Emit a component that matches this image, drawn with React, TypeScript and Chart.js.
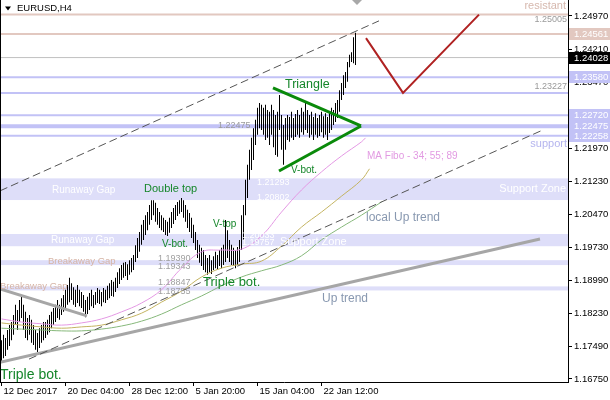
import React, { useEffect, useRef } from "react";
import { Chart, registerables } from "chart.js";

Chart.register(...registerables);

// ---------- data ----------
const chartTitle = "EURUSD,H4";
const xTickBars = [0, 32, 64, 96, 128, 160];
const xTickLabels = ["12 Dec 2017", "20 Dec 04:00", "28 Dec 12:00", "5 Jan 20:00", "15 Jan 04:00", "22 Jan 12:00"];
const yTickValues = [1.2497, 1.2421, 1.2347, 1.2272, 1.2197, 1.2123, 1.2047, 1.1973, 1.1899, 1.1823, 1.1749, 1.1675];

const barHigh = [
  1.1763, 1.1775, 1.1768, 1.1786, 1.1797, 1.1804, 1.1820, 1.1843, 1.1831, 1.1854,
  1.1861, 1.1843, 1.1827, 1.1813, 1.1820, 1.1809, 1.1797, 1.1786, 1.1779, 1.1790,
  1.1797, 1.1804, 1.1804, 1.1809, 1.1820, 1.1827, 1.1836, 1.1843, 1.1854, 1.1843,
  1.1858, 1.1865, 1.1877, 1.1888, 1.1904, 1.1892, 1.1883, 1.1877, 1.1888, 1.1877,
  1.1872, 1.1865, 1.1854, 1.1861, 1.1870, 1.1877, 1.1865, 1.1872, 1.1881, 1.1877,
  1.1872, 1.1881, 1.1877, 1.1886, 1.1892, 1.1899, 1.1895, 1.1904, 1.1917, 1.1926,
  1.1933, 1.1938, 1.1940, 1.1935, 1.1944, 1.1949, 1.1956, 1.1978, 1.1994, 1.2008,
  1.2024, 1.2035, 1.2046, 1.2053, 1.2069, 1.2080, 1.2080, 1.2074, 1.2062, 1.2053,
  1.2046, 1.2040, 1.2035, 1.2031, 1.2040, 1.2053, 1.2062, 1.2069, 1.2076, 1.2080,
  1.2085, 1.2080, 1.2069, 1.2058, 1.2051, 1.2040, 1.2024, 1.2008, 1.1990, 1.1979,
  1.1972, 1.1967, 1.1956, 1.1949, 1.1956, 1.1944, 1.1953, 1.1963, 1.1956, 1.1967,
  1.1972, 1.1979, 1.2035, 1.2012, 1.1990, 1.1979, 1.1972, 1.1967, 1.1974, 1.1990,
  1.2046, 1.2069, 1.2126, 1.2160, 1.2194, 1.2221, 1.2243, 1.2262, 1.2289, 1.2300,
  1.2296, 1.2289, 1.2296, 1.2284, 1.2280, 1.2296, 1.2284, 1.2273, 1.2280, 1.2318,
  1.2273, 1.2250, 1.2266, 1.2273, 1.2268, 1.2280, 1.2266, 1.2275, 1.2284, 1.2273,
  1.2289, 1.2280, 1.2300, 1.2284, 1.2273, 1.2280, 1.2268, 1.2277, 1.2266, 1.2273,
  1.2280, 1.2270, 1.2277, 1.2268, 1.2280, 1.2289, 1.2284, 1.2300, 1.2307, 1.2329,
  1.2345, 1.2363, 1.2370, 1.2393, 1.2409, 1.2415, 1.2449, 1.2459,
];
const barLow = [
  1.1713, 1.1722, 1.1727, 1.1741, 1.1750, 1.1763, 1.1775, 1.1797, 1.1786, 1.1804,
  1.1813, 1.1786, 1.1768, 1.1763, 1.1775, 1.1757, 1.1752, 1.1741, 1.1736, 1.1745,
  1.1757, 1.1763, 1.1768, 1.1775, 1.1781, 1.1790, 1.1797, 1.1804, 1.1813, 1.1809,
  1.1820, 1.1827, 1.1831, 1.1843, 1.1849, 1.1854, 1.1843, 1.1838, 1.1847, 1.1840,
  1.1836, 1.1827, 1.1815, 1.1822, 1.1831, 1.1840, 1.1836, 1.1843, 1.1847, 1.1845,
  1.1840, 1.1849, 1.1847, 1.1854, 1.1858, 1.1863, 1.1861, 1.1872, 1.1881, 1.1890,
  1.1899, 1.1904, 1.1908, 1.1899, 1.1911, 1.1917, 1.1922, 1.1940, 1.1949, 1.1963,
  1.1979, 1.1990, 1.2001, 1.2012, 1.2024, 1.2035, 1.2046, 1.2031, 1.2024, 1.2017,
  1.2012, 1.2008, 1.2001, 1.1999, 1.2006, 1.2017, 1.2026, 1.2035, 1.2044, 1.2049,
  1.2053, 1.2040, 1.2031, 1.2017, 1.2008, 1.1994, 1.1983, 1.1967, 1.1949, 1.1938,
  1.1931, 1.1922, 1.1917, 1.1911, 1.1917, 1.1913, 1.1922, 1.1926, 1.1922, 1.1931,
  1.1926, 1.1933, 1.1940, 1.1949, 1.1940, 1.1933, 1.1931, 1.1926, 1.1933, 1.1940,
  1.1967, 1.1990, 1.2046, 1.2085, 1.2126, 1.2148, 1.2171, 1.2205, 1.2228, 1.2243,
  1.2239, 1.2228, 1.2216, 1.2221, 1.2205, 1.2228, 1.2200, 1.2182, 1.2178, 1.2239,
  1.2194, 1.2160, 1.2194, 1.2216, 1.2212, 1.2221, 1.2216, 1.2223, 1.2228, 1.2221,
  1.2234, 1.2228, 1.2239, 1.2232, 1.2221, 1.2228, 1.2216, 1.2228, 1.2221, 1.2225,
  1.2234, 1.2221, 1.2228, 1.2216, 1.2232, 1.2239, 1.2250, 1.2257, 1.2266, 1.2280,
  1.2307, 1.2318, 1.2334, 1.2348, 1.2381, 1.2393, 1.2390, 1.2386,
];

// Moving averages (MA Fibo 34 / 55 / 89)
const ma34Bars = [0, 10, 20, 30, 40, 50, 60, 70, 80, 90, 100, 110, 120, 130, 140, 150, 160, 170, 180, 182];
const ma34Values = [1.1811, 1.1804, 1.1800, 1.1797, 1.1802, 1.1811, 1.1827, 1.1847, 1.1877, 1.1926, 1.1963, 1.1967, 1.1969, 1.1999, 1.2053, 1.2103, 1.2144, 1.2180, 1.2212, 1.2221];
const ma55Bars = [0, 10, 20, 30, 40, 50, 60, 70, 80, 90, 100, 110, 120, 130, 140, 150, 160, 170, 180, 184];
const ma55Values = [1.1802, 1.1797, 1.1793, 1.1790, 1.1793, 1.1797, 1.1809, 1.1824, 1.1849, 1.1874, 1.1906, 1.1926, 1.1935, 1.1942, 1.1976, 1.2019, 1.2053, 1.2089, 1.2126, 1.2151];
const ma89Bars = [0, 10, 20, 30, 40, 50, 60, 70, 80, 90, 100, 110, 120, 130, 140, 150, 160, 170, 180, 190];
const ma89Values = [1.1790, 1.1788, 1.1786, 1.1784, 1.1784, 1.1788, 1.1795, 1.1806, 1.1822, 1.1843, 1.1863, 1.1886, 1.1906, 1.1920, 1.1933, 1.1954, 1.1990, 1.2019, 1.2046, 1.2076];

// Horizontal levels and zones
const resistanceLevels = [1.25005, 1.24561];
const lastPrice = 1.24028;
const supportLevels = [1.2358, 1.23227, 1.2272, 1.22258];
const triangleApexLevel = 1.22475;
const zoneHigh = [1.21293, 1.20033, 1.1944, 1.18847];
const zoneLow = [1.20802, 1.19757, 1.1933, 1.18755];

// Trend lines: [bar index, price]
const upperChannel = [[-0.75, 1.2101], [188.75, 1.2486]];
const lowerChannel = [[13.75, 1.172], [270.75, 1.2239]];
const upTrend = [[-0.75, 1.1713], [269.25, 1.1992]];
const wedgeLine = [[-0.75, 1.1879], [42.75, 1.1818]];
const triangleUpper = [[135.75, 1.2334], [179.75, 1.2248]];
const triangleLower = [[138.75, 1.2146], [179.75, 1.2248]];
const projection = [[182.25, 1.2447], [200.75, 1.2323], [238.75, 1.25]];

// Price markers on the axis
const markerValues = [1.24561, 1.24028, 1.2358, 1.2272, 1.22475, 1.22258];
const markerKinds = ["res", "last", "sup", "sup", "sup", "sup"];

// ---------- styling ----------
const Y_MIN = 1.16682;
const Y_MAX = 1.25332;
const X_MIN = -0.75;
const X_MAX = 283.25;
const AXIS_FONT = '"Liberation Sans", Arial, sans-serif';
const GREEN = "#15862a";
const TREND_BLUE = "#8898b0";
const ZONE_FILL = "#dedef9";
const LEVEL_BLUE = "#c2c2f6";
const LEVEL_ROSE = "#e2c8c0";

type Note = { t: string; x: number; y: number; s: number; c: string; a?: CanvasTextAlign };
const notes: Note[] = [
  { t: "resistant", x: 566, y: 6, s: 11, c: "#d6b8ae", a: "right" },
  { t: "1.25005", x: 567, y: 20, s: 9, c: "#9a9a9a", a: "right" },
  { t: "1.23227", x: 567, y: 87, s: 9, c: "#9a9a9a", a: "right" },
  { t: "support", x: 567, y: 144, s: 11, c: "#b4b4ee", a: "right" },
  { t: "Triangle", x: 285, y: 85, s: 12.5, c: GREEN },
  { t: "1.22475", x: 218, y: 126, s: 9, c: "#9a9a9a" },
  { t: "MA Fibo - 34; 55; 89", x: 367, y: 156, s: 10, c: "#e29ae2" },
  { t: "V-bot.", x: 291, y: 170, s: 10, c: GREEN },
  { t: "Runaway Gap", x: 52, y: 190, s: 10, c: "#ffffff" },
  { t: "Double top", x: 144, y: 189, s: 11, c: GREEN },
  { t: "1.21293", x: 257, y: 183, s: 9, c: "#ffffff" },
  { t: "1.20802", x: 257, y: 198, s: 9, c: "#ffffff" },
  { t: "Support Zone", x: 566, y: 189, s: 11, c: "#ffffff", a: "right" },
  { t: "local Up trend", x: 366, y: 218, s: 12, c: TREND_BLUE },
  { t: "V-top", x: 213, y: 224, s: 10, c: GREEN },
  { t: "Runaway Gap", x: 51, y: 240, s: 10, c: "#ffffff" },
  { t: "V-bot.", x: 162, y: 244, s: 10, c: GREEN },
  { t: "1.20033", x: 242, y: 236, s: 9, c: "#ffffff" },
  { t: "1.19757", x: 242, y: 243, s: 9, c: "#ffffff" },
  { t: "Support Zone", x: 280, y: 242, s: 11, c: "#ffffff" },
  { t: "Breakaway Gap", x: 48, y: 261, s: 9.5, c: "#d6b4a6" },
  { t: "1.19390", x: 158, y: 259, s: 9, c: "#a0a0a0" },
  { t: "1.19343", x: 158, y: 267, s: 9, c: "#a0a0a0" },
  { t: "1.18847", x: 158, y: 283, s: 9, c: "#a0a0a0" },
  { t: "1.18755", x: 158, y: 292, s: 9, c: "#a0a0a0" },
  { t: "Breakaway Gap", x: 0, y: 286, s: 9.5, c: "#d6b4a6" },
  { t: "Triple bot.", x: 203, y: 282, s: 13, c: GREEN },
  { t: "Up trend", x: 322, y: 299, s: 12, c: TREND_BLUE },
  { t: "Triple bot.", x: 0, y: 375, s: 14, c: GREEN },
];

const overlay = {
  id: "overlay",
  beforeDatasetsDraw(chart: any) {
    const { ctx, chartArea: a, scales } = chart;
    const y = scales.y;
    ctx.save();
    ctx.fillStyle = ZONE_FILL;
    zoneHigh.forEach((hi, i) => {
      const y1 = y.getPixelForValue(hi);
      const y2 = y.getPixelForValue(zoneLow[i]);
      ctx.fillRect(a.left, y1, a.right - a.left, y2 - y1);
    });
    const hline = (v: number, color: string, w: number) => {
      const py = y.getPixelForValue(v);
      ctx.strokeStyle = color;
      ctx.lineWidth = w;
      ctx.beginPath();
      ctx.moveTo(a.left, py);
      ctx.lineTo(a.right, py);
      ctx.stroke();
    };
    resistanceLevels.forEach((v) => hline(v, LEVEL_ROSE, 2));
    hline(lastPrice, "#c0c0c0", 1);
    supportLevels.forEach((v) => hline(v, LEVEL_BLUE, 2));
    hline(triangleApexLevel, LEVEL_BLUE, 4);
    ctx.restore();
  },
  afterDatasetsDraw(chart: any) {
    const { ctx, chartArea: a } = chart;
    ctx.save();
    ctx.textBaseline = "middle";
    notes.forEach((n) => {
      ctx.font = `${n.s}px "Liberation Sans", Arial, sans-serif`;
      ctx.fillStyle = n.c;
      ctx.textAlign = n.a || "left";
      ctx.fillText(n.t, a.left + n.x, a.top + n.y);
    });
    // shift marker
    ctx.fillStyle = "#a8a8a8";
    ctx.beginPath();
    ctx.moveTo(a.left + 352, a.top);
    ctx.lineTo(a.left + 362, a.top);
    ctx.lineTo(a.left + 357, a.top + 5);
    ctx.closePath();
    ctx.fill();
    ctx.restore();
  },
  afterDraw(chart: any) {
    const { ctx, chartArea: a, scales, width } = chart;
    const y = scales.y;
    ctx.save();
    // left frame
    ctx.strokeStyle = "#000";
    ctx.lineWidth = 1;
    ctx.beginPath();
    ctx.moveTo(a.left + 0.5, a.top);
    ctx.lineTo(a.left + 0.5, a.bottom);
    ctx.stroke();
    // axis price markers
    ctx.font = `9.5px ${AXIS_FONT}`;
    ctx.textBaseline = "middle";
    ctx.textAlign = "left";
    markerValues.forEach((v, i) => {
      const py = Math.round(y.getPixelForValue(v));
      const kind = markerKinds[i];
      ctx.fillStyle = kind === "last" ? "#000" : kind === "res" ? LEVEL_ROSE : LEVEL_BLUE;
      ctx.fillRect(a.right + 1, py - 6, width - a.right - 1, 12);
      ctx.fillStyle = "#fff";
      ctx.fillText(v.toFixed(5), a.right + 6, py + 0.5);
    });
    // title
    ctx.fillStyle = "#000";
    ctx.beginPath();
    ctx.moveTo(5, 6.5);
    ctx.lineTo(11, 6.5);
    ctx.lineTo(8, 10.5);
    ctx.closePath();
    ctx.fill();
    ctx.font = `9.5px ${AXIS_FONT}`;
    ctx.fillText(chartTitle, 17, 8.5);
    ctx.restore();
  },
};

const lineSet = (pts: number[][], color: string, width: number, order: number, dash: number[] = [], tension = 0) => ({
  type: "line" as const,
  data: pts.map(([x, v]) => ({ x, y: v })),
  borderColor: color,
  borderWidth: width,
  borderDash: dash,
  pointRadius: 0,
  fill: false,
  tension,
  order,
});

export default function App() {
  const ref = useRef<HTMLCanvasElement>(null);
  useEffect(() => {
    document.body.style.margin = "0";
    const canvas = ref.current!;
    const bars = barHigh.map((h, i) => ({ x: i, y: [barLow[i], h] }));
    const chart = new Chart(canvas, {
      type: "bar",
      data: {
        datasets: [
          {
            type: "bar",
            data: bars as any,
            backgroundColor: "#000",
            borderWidth: 0,
            barThickness: 1,
            inflateAmount: 0,
            order: 10,
          } as any,
          lineSet(ma89Bars.map((b, i) => [b, ma89Values[i]]), "#86b87a", 1, 6, [], 0.4),
          lineSet(ma55Bars.map((b, i) => [b, ma55Values[i]]), "#c4b462", 1, 5, [], 0.4),
          lineSet(ma34Bars.map((b, i) => [b, ma34Values[i]]), "#e498e4", 1, 4, [], 0.4),
          lineSet(upperChannel, "#555555", 1, 3, [8, 4]),
          lineSet(lowerChannel, "#555555", 1, 3, [8, 4]),
          lineSet(upTrend, "#a6a6a6", 3, 3),
          lineSet(wedgeLine, "#a6a6a6", 3, 3),
          lineSet(triangleUpper, "#0a8a0a", 3, 2),
          lineSet(triangleLower, "#0a8a0a", 3, 2),
          lineSet(projection, "#b02222", 2, 1),
        ] as any,
      },
      options: {
        animation: false,
        responsive: false,
        devicePixelRatio: 1,
        layout: { padding: 0 },
        plugins: { legend: { display: false }, tooltip: { enabled: false }, title: { display: false } },
        scales: {
          x: {
            type: "linear",
            min: X_MIN,
            max: X_MAX,
            offset: false,
            grid: { display: true, drawOnChartArea: false, drawTicks: true, tickLength: 4, color: "#000", offset: false },
            border: { display: true, color: "#000", width: 1 },
            ticks: {
              autoSkip: false,
              maxRotation: 0,
              minRotation: 0,
              align: "start",
              labelOffset: 2,
              padding: 0,
              color: "#000",
              font: { family: AXIS_FONT, size: 9.5 },
              callback: (_v: any, idx: number) => xTickLabels[idx] ?? "",
            },
            afterBuildTicks: (s: any) => {
              s.ticks = xTickBars.map((v) => ({ value: v }));
            },
            afterFit: (s: any) => {
              s.height = 18;
              s.paddingLeft = 0;
              s.paddingRight = 0;
            },
          },
          y: {
            type: "linear",
            position: "right",
            min: Y_MIN,
            max: Y_MAX,
            grid: { display: true, drawOnChartArea: false, drawTicks: true, tickLength: 4, color: "#000" },
            border: { display: true, color: "#000", width: 1 },
            ticks: {
              autoSkip: false,
              padding: 2,
              color: "#000",
              font: { family: AXIS_FONT, size: 9.5 },
              callback: (v: any) => Number(v).toFixed(5),
            },
            afterBuildTicks: (s: any) => {
              s.ticks = yTickValues.map((v) => ({ value: v }));
            },
            afterFit: (s: any) => {
              s.width = 42;
              s.paddingTop = 0;
              s.paddingBottom = 0;
            },
          },
        },
      } as any,
      plugins: [overlay],
    });
    return () => chart.destroy();
  }, []);
  return (
    <div style={{ width: 610, height: 400 }}>
      <canvas ref={ref} width={610} height={400} style={{ display: "block" }} />
    </div>
  );
}
